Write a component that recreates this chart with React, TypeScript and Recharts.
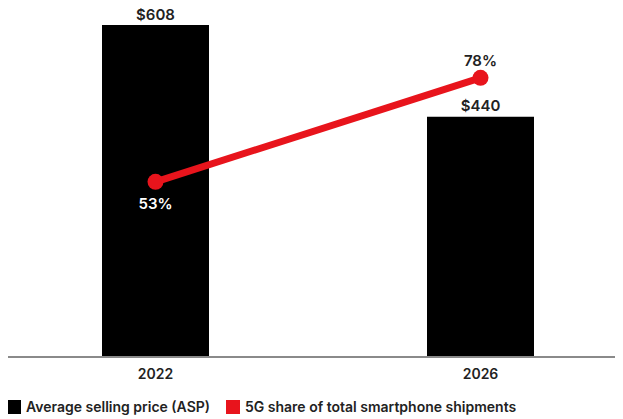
import { ComposedChart, Bar, Line, XAxis, YAxis, LabelList } from 'recharts';

const years = ['2022', '2026'];
const aspValues = [608, 440];
const shareValues = [53, 78];
const seriesNames = ['Average selling price (ASP)', '5G share of total smartphone shipments'];

const data = years.map((year, i) => ({
    year,
    asp: aspValues[i],
    share: shareValues[i],
}));

const FONT = 'Inter, "DejaVu Sans", sans-serif';

const renderShareLabel = (props: any) => {
    const { x, y, value, index } = props;
    const below = index === 0;
    return (
        <text
            x={x}
            y={below ? y + 22 : y - 17}
            fill={below ? '#ffffff' : '#222222'}
            textAnchor="middle"
            dominantBaseline="central"
            fontSize={15}
            fontWeight={600}
            fontFamily={FONT}
        >
            {`${value}%`}
        </text>
    );
};

const renderAspLabel = (props: any) => {
    const { x, y, width, value } = props;
    return (
        <text
            x={x + width / 2}
            y={y - 11}
            fill="#222222"
            textAnchor="middle"
            dominantBaseline="central"
            fontSize={15}
            fontWeight={600}
            fontFamily={FONT}
        >
            {`$${value}`}
        </text>
    );
};

export default function App() {
    return (
        <div style={{ position: 'relative', margin: '-8px 0 0 -8px', width: 623, height: 419 }}>
            <ComposedChart
                width={623}
                height={419}
                data={data}
                margin={{ top: 25, right: 0, left: 7, bottom: 32 }}
                style={{ overflow: 'visible' }}
            >
                <XAxis
                    dataKey="year"
                    padding={{ left: -14, right: -20 }}
                    axisLine={{ stroke: '#8a8a8a', strokeWidth: 2 }}
                    tickLine={false}
                    tick={{ fill: '#222222', fontSize: 14, fontWeight: 600, fontFamily: FONT }}
                    tickMargin={6}
                    height={30}
                />
                <YAxis yAxisId="asp" hide domain={[0, 608]} />
                <YAxis yAxisId="share" orientation="right" hide domain={[10.9, 90.7]} />
                <Bar yAxisId="asp" dataKey="asp" fill="#000000" barSize={107} isAnimationActive={false}>
                    <LabelList dataKey="asp" content={renderAspLabel} />
                </Bar>
                <Line
                    yAxisId="share"
                    dataKey="share"
                    stroke="#e8141c"
                    strokeWidth={7}
                    dot={{ r: 8, fill: '#e8141c', stroke: 'none' }}
                    activeDot={false}
                    isAnimationActive={false}
                >
                    <LabelList dataKey="share" content={renderShareLabel} />
                </Line>
            </ComposedChart>
            <div
                style={{
                    position: 'absolute',
                    left: 7,
                    top: 398,
                    display: 'flex',
                    alignItems: 'center',
                    fontFamily: FONT,
                    fontSize: 14,
                    fontWeight: 600,
                    color: '#222222',
                    whiteSpace: 'nowrap',
                }}
            >
                {seriesNames.map((name, i) => (
                    <div key={name} style={{ display: 'flex', alignItems: 'center', marginRight: 16 }}>
                        <div
                            style={{
                                width: 14,
                                height: 14,
                                background: i === 0 ? '#000000' : '#e8141c',
                                marginRight: 5,
                            }}
                        />
                        <span>{name}</span>
                    </div>
                ))}
            </div>
        </div>
    );
}
